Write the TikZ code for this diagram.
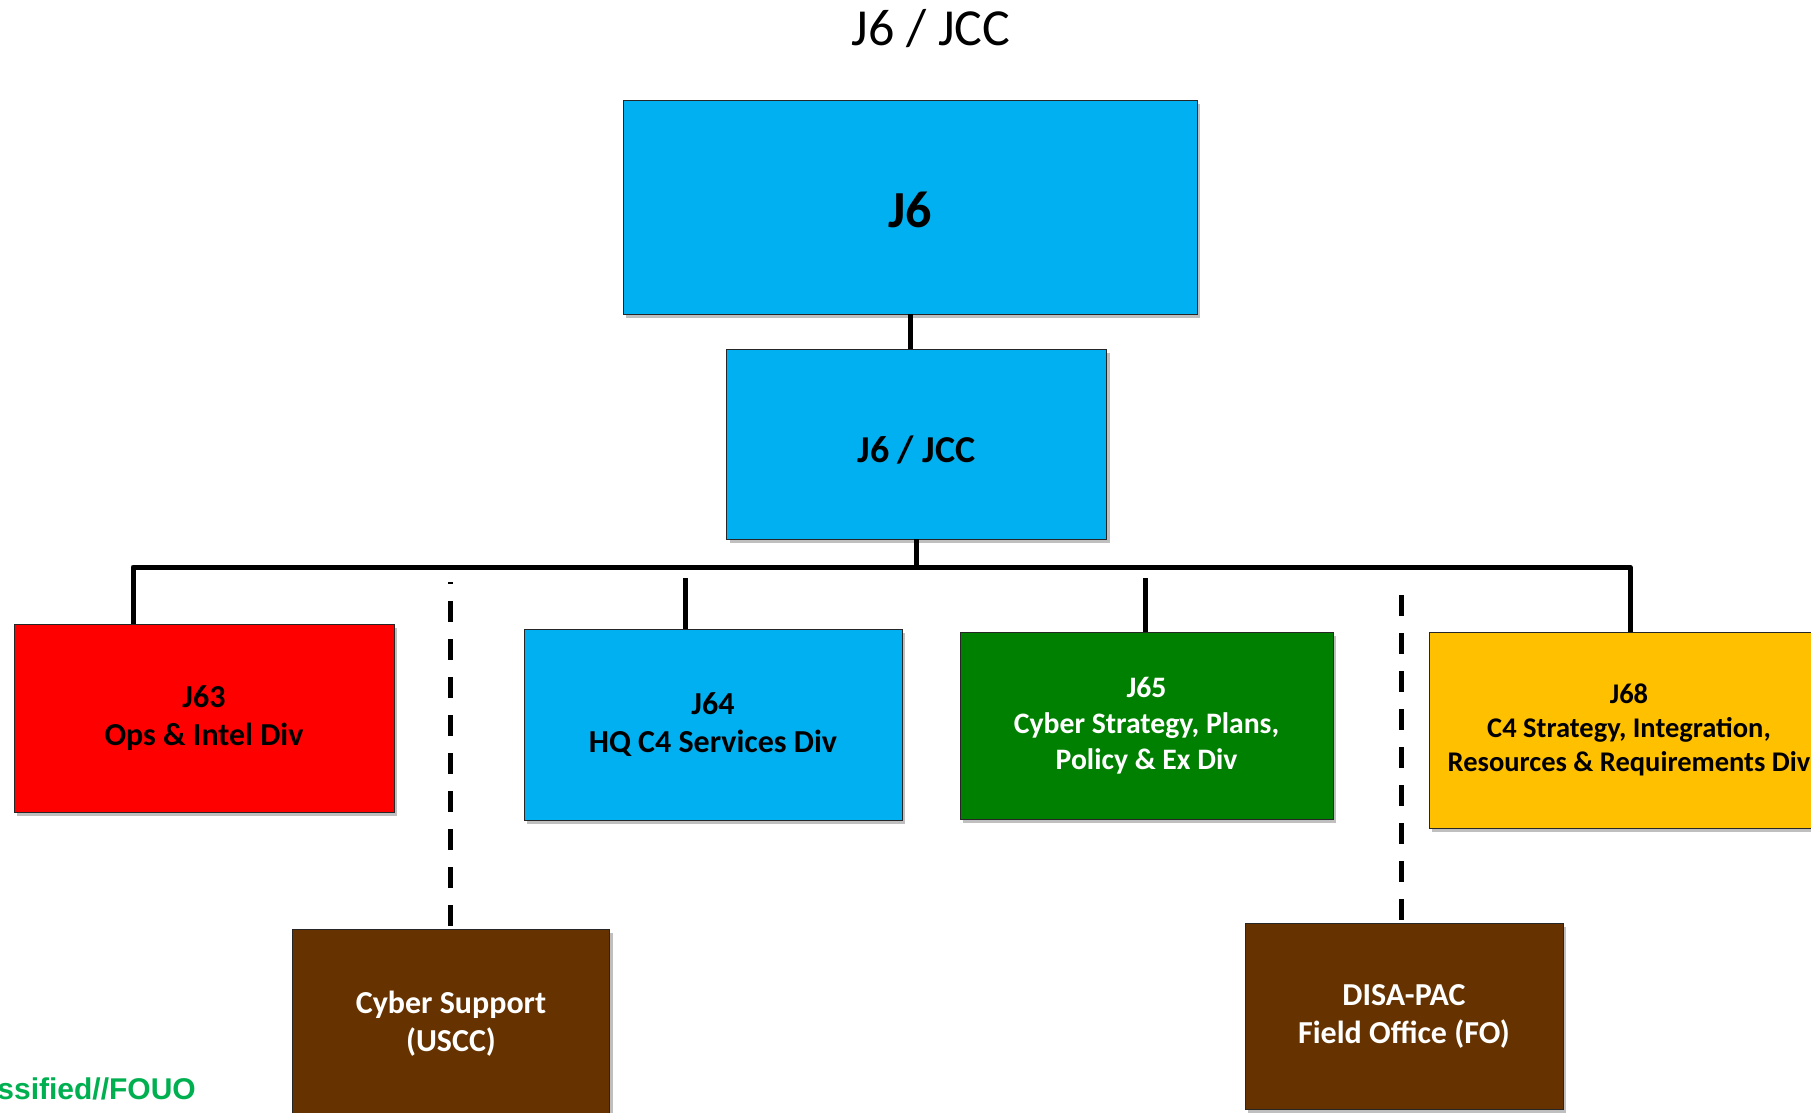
\documentclass[tikz,border=0pt]{standalone}
\usepackage{fontspec}
\setmainfont{Carlito}
\newfontfamily\markfont{Liberation Sans}
\usepackage{tikz}
\usetikzlibrary{calc,shadows}
\definecolor{sky}{HTML}{00B0F0}
\definecolor{alert}{HTML}{FF0000}
\definecolor{forest}{HTML}{008000}
\definecolor{amber}{HTML}{FFC000}
\definecolor{umber}{HTML}{663300}
\definecolor{mark}{HTML}{00B050}
\tikzset{
  orgbox/.style={draw=black!85, line width=0.9pt, inner sep=0pt, align=center,
    font=\bfseries\fontsize{32}{38}\selectfont,
    drop shadow={shadow xshift=3pt, shadow yshift=-4pt, opacity=0.25, fill=black}},
  link/.style={draw=black, line width=5pt, line join=round},
  dotlink/.style={draw=black, line width=5pt, dash pattern=on 21pt off 17pt},
}

\begin{document}
\begin{tikzpicture}[x=1pt,y=-1pt]
  \useasboundingbox (0,0) rectangle (1811,1112);

  % title
  \node[font=\fontsize{52}{60}\selectfont] (title) at (931,29) {J6 / JCC};

  % command boxes
  \node[orgbox, fill=sky, minimum width=574pt, minimum height=214pt,
        text height=40pt, text depth=0pt,
        font=\bfseries\fontsize{52}{60}\selectfont] (j6) at (910,207) {J6};
  \node[orgbox, fill=sky, minimum width=380pt, minimum height=190pt,
        text height=37pt, text depth=0pt,
        font=\bfseries\fontsize{38}{46}\selectfont] (jcc) at (916.5,444) {J6 / JCC};

  % divisions
  \node[orgbox, fill=alert, minimum width=380pt, minimum height=188pt] (j63) at (204,718)
    {J63\\Ops \& Intel Div};
  \node[orgbox, fill=sky, minimum width=378pt, minimum height=191pt] (j64) at (713,724.5)
    {J64\\HQ C4 Services Div};
  \node[orgbox, fill=forest, text=white, minimum width=373pt, minimum height=187pt,
        font=\bfseries\fontsize{29.7}{36}\selectfont] (j65) at (1146.5,725.5)
    {J65\\Cyber Strategy, Plans,\\Policy \& Ex Div};
  \node[orgbox, fill=amber, minimum width=400pt, minimum height=196pt,
        font=\bfseries\fontsize{28.5}{34}\selectfont] (j68) at (1629,730)
    {J68\\C4 Strategy, Integration,\\Resources \& Requirements Div};

  % supporting offices
  \node[orgbox, fill=umber, text=white, minimum width=317pt, minimum height=190pt] (cyber) at (451,1024)
    {Cyber Support\\(USCC)};
  \node[orgbox, fill=umber, text=white, minimum width=318pt, minimum height=186pt] (disa) at (1404,1016)
    {DISA-PAC\\Field Office (FO)};

  % bus and drops
  \coordinate (busL) at (133,567);
  \coordinate (busR) at (1630,567);
  \coordinate (t64) at (685,578);
  \coordinate (t65) at (1145,578);
  \coordinate (dA) at (450,582);
  \coordinate (dB) at (1401,595);

  \draw[link] (j6.south) -- (jcc.north -| j6.south);
  \draw[link] (jcc.south) -- (jcc.south |- busL);
  \draw[link] (j63.north -| busL) -- (busL) -- (busR) -- (busR |- j68.north);
  \draw[link] (t64) -- (t64 |- j64.north);
  \draw[link] (t65) -- (t65 |- j65.north);
  \draw[dotlink, dash phase=19pt] (dA) -- (dA |- cyber.north);
  \draw[dotlink] (dB) -- (dB |- disa.north);

  % marking
  \node[anchor=base east, text=mark, inner sep=0pt,
        font=\markfont\bfseries\fontsize{30}{34}\selectfont] (marking) at (196,1099) {ssified//FOUO};
\end{tikzpicture}
\end{document}
